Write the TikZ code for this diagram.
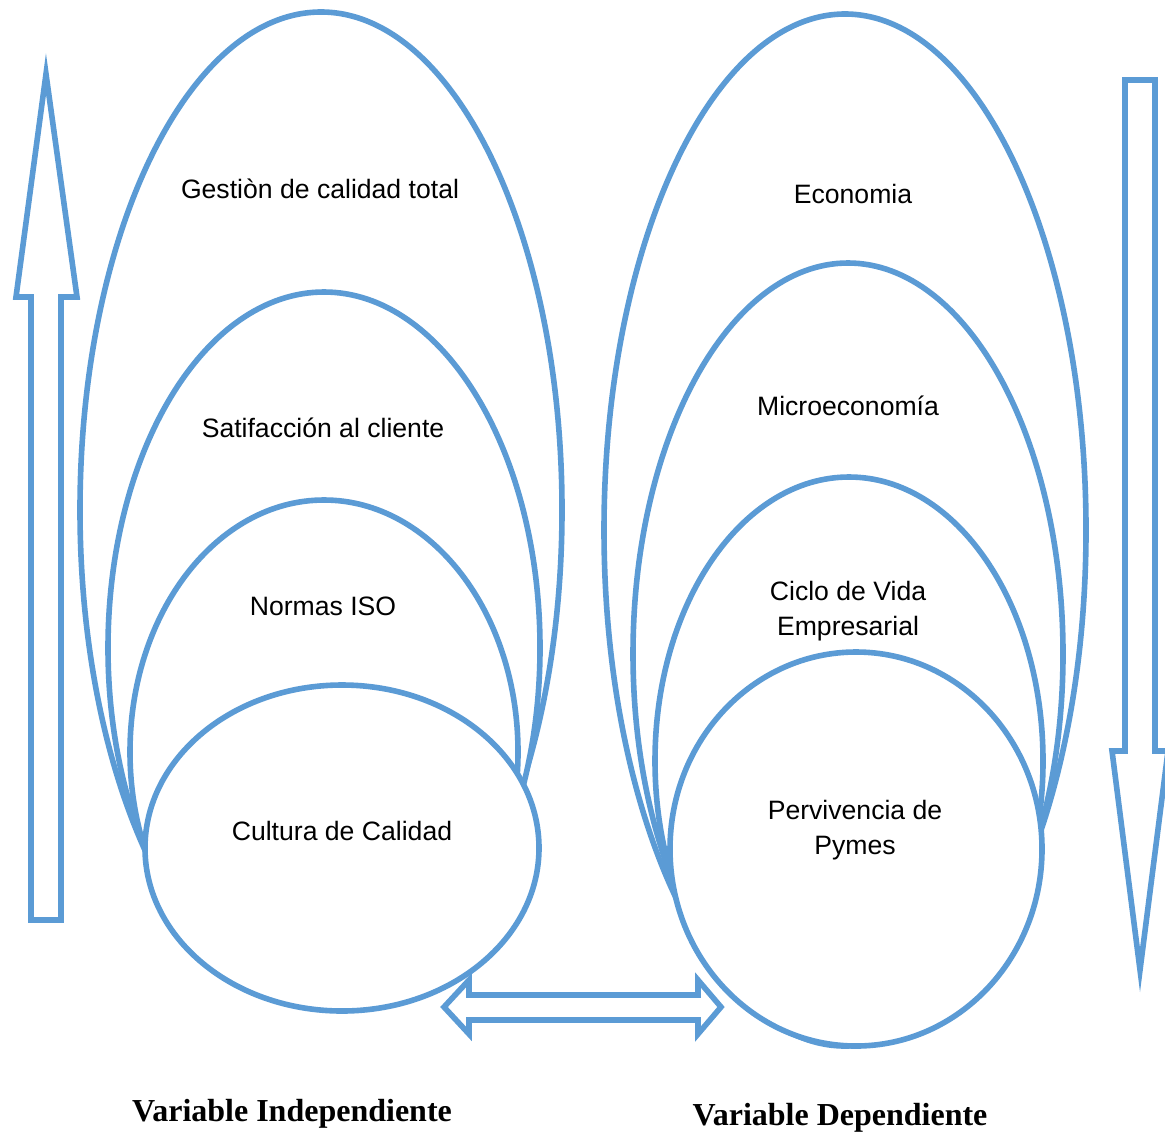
\documentclass[tikz,border=0pt]{standalone}
\usepackage{fontspec}
\setmainfont{Liberation Sans}
\newfontfamily\timesfont{Liberation Serif}
\usetikzlibrary{positioning}
\definecolor{ovalBlue}{RGB}{91, 155, 213}

\begin{document}
\begin{tikzpicture}[
        x=0.5pt, y=-0.5pt,
        ovalShape/.style={draw=ovalBlue, fill=white, line width=2.8pt},
        blockArrow/.style={draw=ovalBlue, fill=white, line width=2.8pt, line join=miter},
        ovalText/.style={align=center, font=\fontsize{13.3}{17.8}\selectfont, inner sep=0pt},
        varText/.style={font=\timesfont\bfseries\fontsize{16}{19}\selectfont, inner sep=0pt}
    ]
        \useasboundingbox (0,0) rectangle (1165,1135);

        \draw[ovalShape] (321,510) ellipse [x radius=241, y radius=498];
        \draw[ovalShape] (324,648) ellipse [x radius=216, y radius=356];
        \draw[ovalShape] (324,752) ellipse [x radius=194, y radius=252];
        \draw[ovalShape] (342,848) ellipse [x radius=197, y radius=163];

        \draw[ovalShape] (845,530) ellipse [x radius=241, y radius=516];
        \draw[ovalShape] (848,654) ellipse [x radius=215, y radius=391];
        \draw[ovalShape] (849,761) ellipse [x radius=194, y radius=284];
        \draw[ovalShape] (856,849) ellipse [x radius=186, y radius=197];

        \node[ovalText] (gestion) at (320,189) {Gestiòn de calidad total};
        \node[ovalText] (satisfaccion) at (323,428) {Satifacción al cliente};
        \node[ovalText] (normas) at (323,606) {Normas ISO};
        \node[ovalText] (cultura) at (342,831) {Cultura de Calidad};

        \node[ovalText] (economia) at (853,194) {Economia};
        \node[ovalText] (micro) at (848,406) {Microeconomía};
        \node[ovalText] (ciclo) at (848,611) {Ciclo de Vida\\Empresarial};
        \node[ovalText] (pymes) at (855,830) {Pervivencia de\\Pymes};

        \draw[blockArrow] (31,920) -- (31,297) -- (16,297) -- (46,74) -- (77,297) -- (61,297) -- (61,920) -- cycle;
        \draw[blockArrow] (1125,80) -- (1155,80) -- (1155,751) -- (1168,751) -- (1140,970) -- (1112,751) -- (1125,751) -- cycle;
        \draw[blockArrow] (444,1007) -- (469,980) -- (469,995) -- (698,995) -- (698,980) -- (721,1007)
            -- (698,1034) -- (698,1020) -- (469,1020) -- (469,1034) -- cycle;

        \node[varText] (indep) at (292,1114) {Variable Independiente};
        \node[varText] (dep) at (840,1118) {Variable Dependiente};
    \end{tikzpicture}
\end{document}
